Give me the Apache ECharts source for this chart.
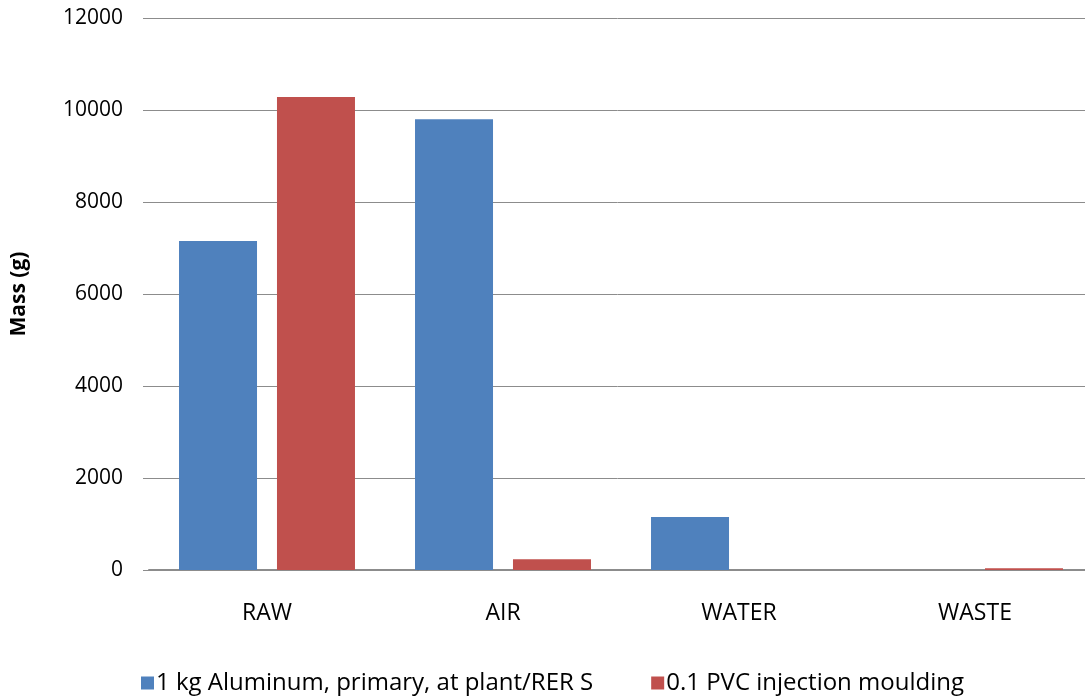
<!DOCTYPE html>
<html>
<head>
<meta charset="utf-8">
<script src="https://cdn.jsdelivr.net/npm/echarts@6/dist/echarts.min.js"></script>
<style>html,body{margin:0;padding:0;background:#fff}#c{width:1085px;height:696px}</style>
</head>
<body>
<div id="c"></div>
<script>
var categories = ['RAW', 'AIR', 'WATER', 'WASTE'];
var seriesNames = ['1 kg Aluminum, primary, at plant/RER S', '0.1 PVC injection moulding'];
var aluminum = [7150, 9800, 1150, 0];
var pvc = [10280, 235, 0, 40];
var yTicks = { min: 0, max: 12000, interval: 2000 };
var axisTitle = 'Mass (g)';

var chart = echarts.init(document.getElementById('c'), null, { renderer: 'canvas' });
var font = '"Open Sans", sans-serif';
chart.setOption({
  animation: false,
  backgroundColor: '#ffffff',
  grid: { left: 149, width: 944, top: 18, bottom: 126, containLabel: false, outerBoundsMode: 'none' },
  legend: {
    top: 666,
    left: 136,
    itemWidth: 13,
    itemHeight: 13,
    itemGap: 58,
    icon: 'rect',
    textStyle: { fontFamily: font, fontSize: 24, color: '#000', padding: [0, 0, 0, -3] },
    data: seriesNames
  },
  xAxis: {
    type: 'category',
    data: categories,
    axisLine: { show: true, lineStyle: { color: '#8c8c8c', width: 2 } },
    axisTick: { show: false },
    axisLabel: { fontFamily: font, fontSize: 23, color: '#000', margin: 32 }
  },
  yAxis: {
    type: 'value',
    min: yTicks.min,
    max: yTicks.max,
    interval: yTicks.interval,
    name: axisTitle,
    nameLocation: 'middle',
    nameGap: 119,
    nameRotate: 90,
    nameTextStyle: { fontFamily: font, fontSize: 21, fontWeight: 'bold', color: '#000' },
    axisLine: { show: false },
    axisTick: { show: true, length: 6, lineStyle: { color: '#8c8c8c' } },
    axisLabel: { fontFamily: font, fontSize: 21, color: '#000', margin: 26,
      formatter: function (v) { return String(v); } },
    splitLine: { show: true, lineStyle: { color: '#8c8c8c', width: 1 } }
  },
  series: [
    { name: seriesNames[0], type: 'bar', data: aluminum, barWidth: 78, barGap: '25.6%',
      itemStyle: { color: '#4F81BD' } },
    { name: seriesNames[1], type: 'bar', data: pvc, barWidth: 78,
      itemStyle: { color: '#C0504D' } }
  ]
});
</script>
</body>
</html>
